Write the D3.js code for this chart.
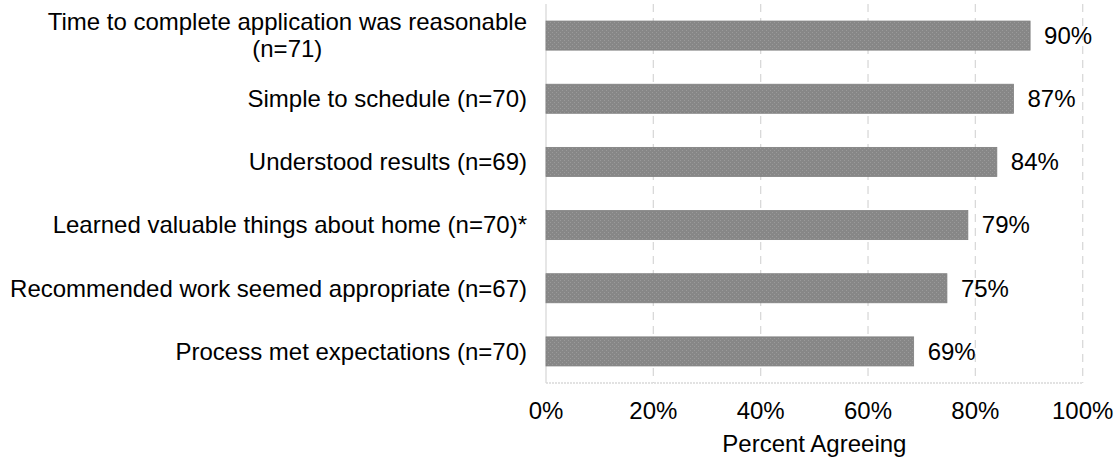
<!DOCTYPE html>
<html><head><meta charset="utf-8">
<script src="https://cdn.jsdelivr.net/npm/d3@7"></script>
<style>body{margin:0;background:#fff}svg{display:block}text{font-family:"Liberation Sans",Arial,sans-serif;fill:#000}</style>
</head><body>
<svg id="c" width="1118" height="463"></svg>
<script>
const categories = [
  ["Time to complete application was reasonable", "(n=71)"],
  ["Simple to schedule (n=70)"],
  ["Understood results (n=69)"],
  ["Learned valuable things about home (n=70)*"],
  ["Recommended work seemed appropriate (n=67)"],
  ["Process met expectations (n=70)"]
];
const values = [0.902, 0.871, 0.840, 0.786, 0.747, 0.685];
const valueLabels = ["90%", "87%", "84%", "79%", "75%", "69%"];
const ticks = [0, 0.2, 0.4, 0.6, 0.8, 1.0];
const tickLabels = ["0%", "20%", "40%", "60%", "80%", "100%"];

const FS = 24;
const svg = d3.select("#c");
const m = {left: 546, right: 1082.7, top: 4, bottom: 383};
const x = d3.scaleLinear().domain([0, 1]).range([m.left, m.right]);
const y = d3.scaleBand().domain(d3.range(categories.length)).range([m.top, m.bottom]).paddingInner(0.54).paddingOuter(0.27);

const defs = svg.append("defs");
const pat = defs.append("pattern").attr("id","tex").attr("width",4).attr("height",4).attr("patternUnits","userSpaceOnUse");
pat.append("rect").attr("width",4).attr("height",4).attr("fill","#878787");
pat.append("rect").attr("x",0).attr("y",0).attr("width",1).attr("height",1).attr("fill","#9a9a9a");
pat.append("rect").attr("x",2).attr("y",2).attr("width",1).attr("height",1).attr("fill","#9a9a9a");

// gridlines
svg.append("g").selectAll("line").data(ticks.slice(1)).join("line")
  .attr("x1", d => x(d)).attr("x2", d => x(d))
  .attr("y1", m.top).attr("y2", m.bottom)
  .attr("stroke", "#d9d9d9").attr("stroke-width", 1.3).attr("stroke-dasharray", "8,6");

// left axis line
svg.append("line").attr("x1", x(0)).attr("x2", x(0)).attr("y1", m.top).attr("y2", m.bottom)
  .attr("stroke", "#d9d9d9").attr("stroke-width", 1.3);
// bottom axis line
svg.append("line").attr("x1", x(0)).attr("x2", x(1)).attr("y1", m.bottom).attr("y2", m.bottom)
  .attr("stroke", "#d9d9d9").attr("stroke-width", 1.3).attr("stroke-dasharray", "2,1");

// bars
svg.append("g").selectAll("rect").data(values).join("rect")
  .attr("x", x(0)).attr("y", (d,i) => y(i))
  .attr("width", d => x(d) - x(0)).attr("height", y.bandwidth())
  .attr("fill", "url(#tex)").attr("stroke","#7f7f7f").attr("stroke-width",0.8);

// value labels
svg.append("g").selectAll("text").data(values).join("text")
  .attr("x", d => x(d) + 14).attr("y", (d,i) => y(i) + y.bandwidth()/2)
  .attr("dy", "0.35em").attr("font-size", FS).text((d,i) => valueLabels[i]);

// category labels
const cg = svg.append("g");
categories.forEach((lines, i) => {
  const cy = y(i) + y.bandwidth()/2;
  const lh = 27;
  const t = cg.append("text").attr("font-size", FS);
  if (lines.length === 1) {
    t.attr("x", 527).attr("y", cy).attr("dy","0.35em").attr("text-anchor","end").text(lines[0]);
  } else {
    const first = t.attr("x", 527).attr("y", cy - lh/2).attr("dy","0.35em").attr("text-anchor","end").text(lines[0]);
    const w = first.node().getComputedTextLength();
    cg.append("text").attr("font-size", FS).attr("x", 527 - w/2).attr("y", cy + lh/2).attr("dy","0.35em")
      .attr("text-anchor","middle").text(lines[1]);
  }
});

// tick labels
svg.append("g").selectAll("text").data(ticks).join("text")
  .attr("x", d => x(d)).attr("y", 411).attr("dy","0.35em").attr("text-anchor","middle")
  .attr("font-size", FS).text((d,i) => tickLabels[i]);

// axis title
svg.append("text").attr("x", (x(0)+x(1))/2).attr("y", 444).attr("dy","0.35em").attr("text-anchor","middle")
  .attr("font-size", FS).text("Percent Agreeing");
</script>
</body></html>
